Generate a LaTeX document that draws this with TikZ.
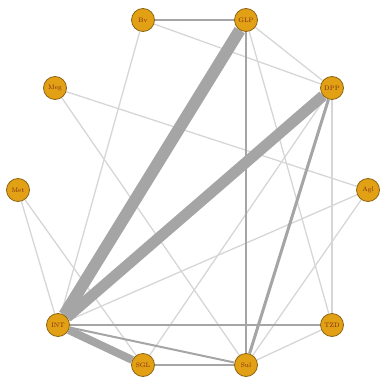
\documentclass[tikz,border=0pt]{standalone}
\usepackage{tikz}
\usetikzlibrary{positioning,backgrounds}
\definecolor{drugfill}{RGB}{226,160,20}
\definecolor{drugline}{RGB}{140,100,20}
\definecolor{drugtext}{RGB}{120,40,20}
\definecolor{linkgray}{RGB}{165,165,165}
\definecolor{linklight}{RGB}{214,214,216}
\tikzset {
    drug node/.style={
        circle,
        fill=drugfill,
        draw=drugline,
        thick,
        minimum size=23pt,
        inner sep=0pt,
        text=drugtext,
        font=\fontsize{6.5}{7}\selectfont,
    },
    light link/.style={
        draw=linklight,
        line width=1.3pt,
    },
    gray link/.style={
        draw=linkgray,
        line width=#1,
    },
}

\begin{document}
\begin{tikzpicture}[x=1pt,y=-1pt]
        \useasboundingbox (0,0) rectangle (380,382);

        % drugs round the circle
        \node[drug node] at (143,20)  (bv)  {Bv};
        \node[drug node] at (246,20)  (glp) {GLP};
        \node[drug node] at (332,88)  (dpp) {DPP};
        \node[drug node] at (55,88)   (meg) {Meg};
        \node[drug node] at (18,190)  (met) {Met};
        \node[drug node] at (368,190) (agl) {Agl};
        \node[drug node] at (58,325)  (int) {INT};
        \node[drug node] at (332,325) (tzd) {TZD};
        \node[drug node] at (143,365) (sgl) {SGL};
        \node[drug node] at (246,365) (sul) {Sul};

        % links, width by number of trials
        \begin{pgfonlayer}{background}
        \draw[light link] (bv) -- (dpp);
        \draw[light link] (bv) -- (int);
        \draw[light link] (glp) -- (dpp);
        \draw[light link] (glp) -- (tzd);
        \draw[light link] (meg) -- (agl);
        \draw[light link] (meg) -- (sul);
        \draw[light link] (met) -- (int);
        \draw[light link] (met) -- (sgl);
        \draw[light link] (dpp) -- (sgl);
        \draw[light link] (dpp) -- (tzd);
        \draw[light link] (agl) -- (int);
        \draw[light link] (agl) -- (sul);
        \draw[light link] (tzd) -- (sul);
        \draw[gray link=1.1pt] (glp) -- (sul);
        \draw[gray link=2pt] (int) -- (sul);
        \draw[gray link=2.3pt] (int) -- (tzd);
        \draw[gray link=2.5pt] (sgl) -- (sul);
        \draw[gray link=2.8pt] (bv) -- (glp);
        \draw[gray link=3pt] (dpp) -- (sul);
        \draw[gray link=8pt] (int) -- (sgl);
        \draw[gray link=11pt] (int) -- (dpp);
        \draw[gray link=12pt] (int) -- (glp);
        \end{pgfonlayer}
\end{tikzpicture}
\end{document}
